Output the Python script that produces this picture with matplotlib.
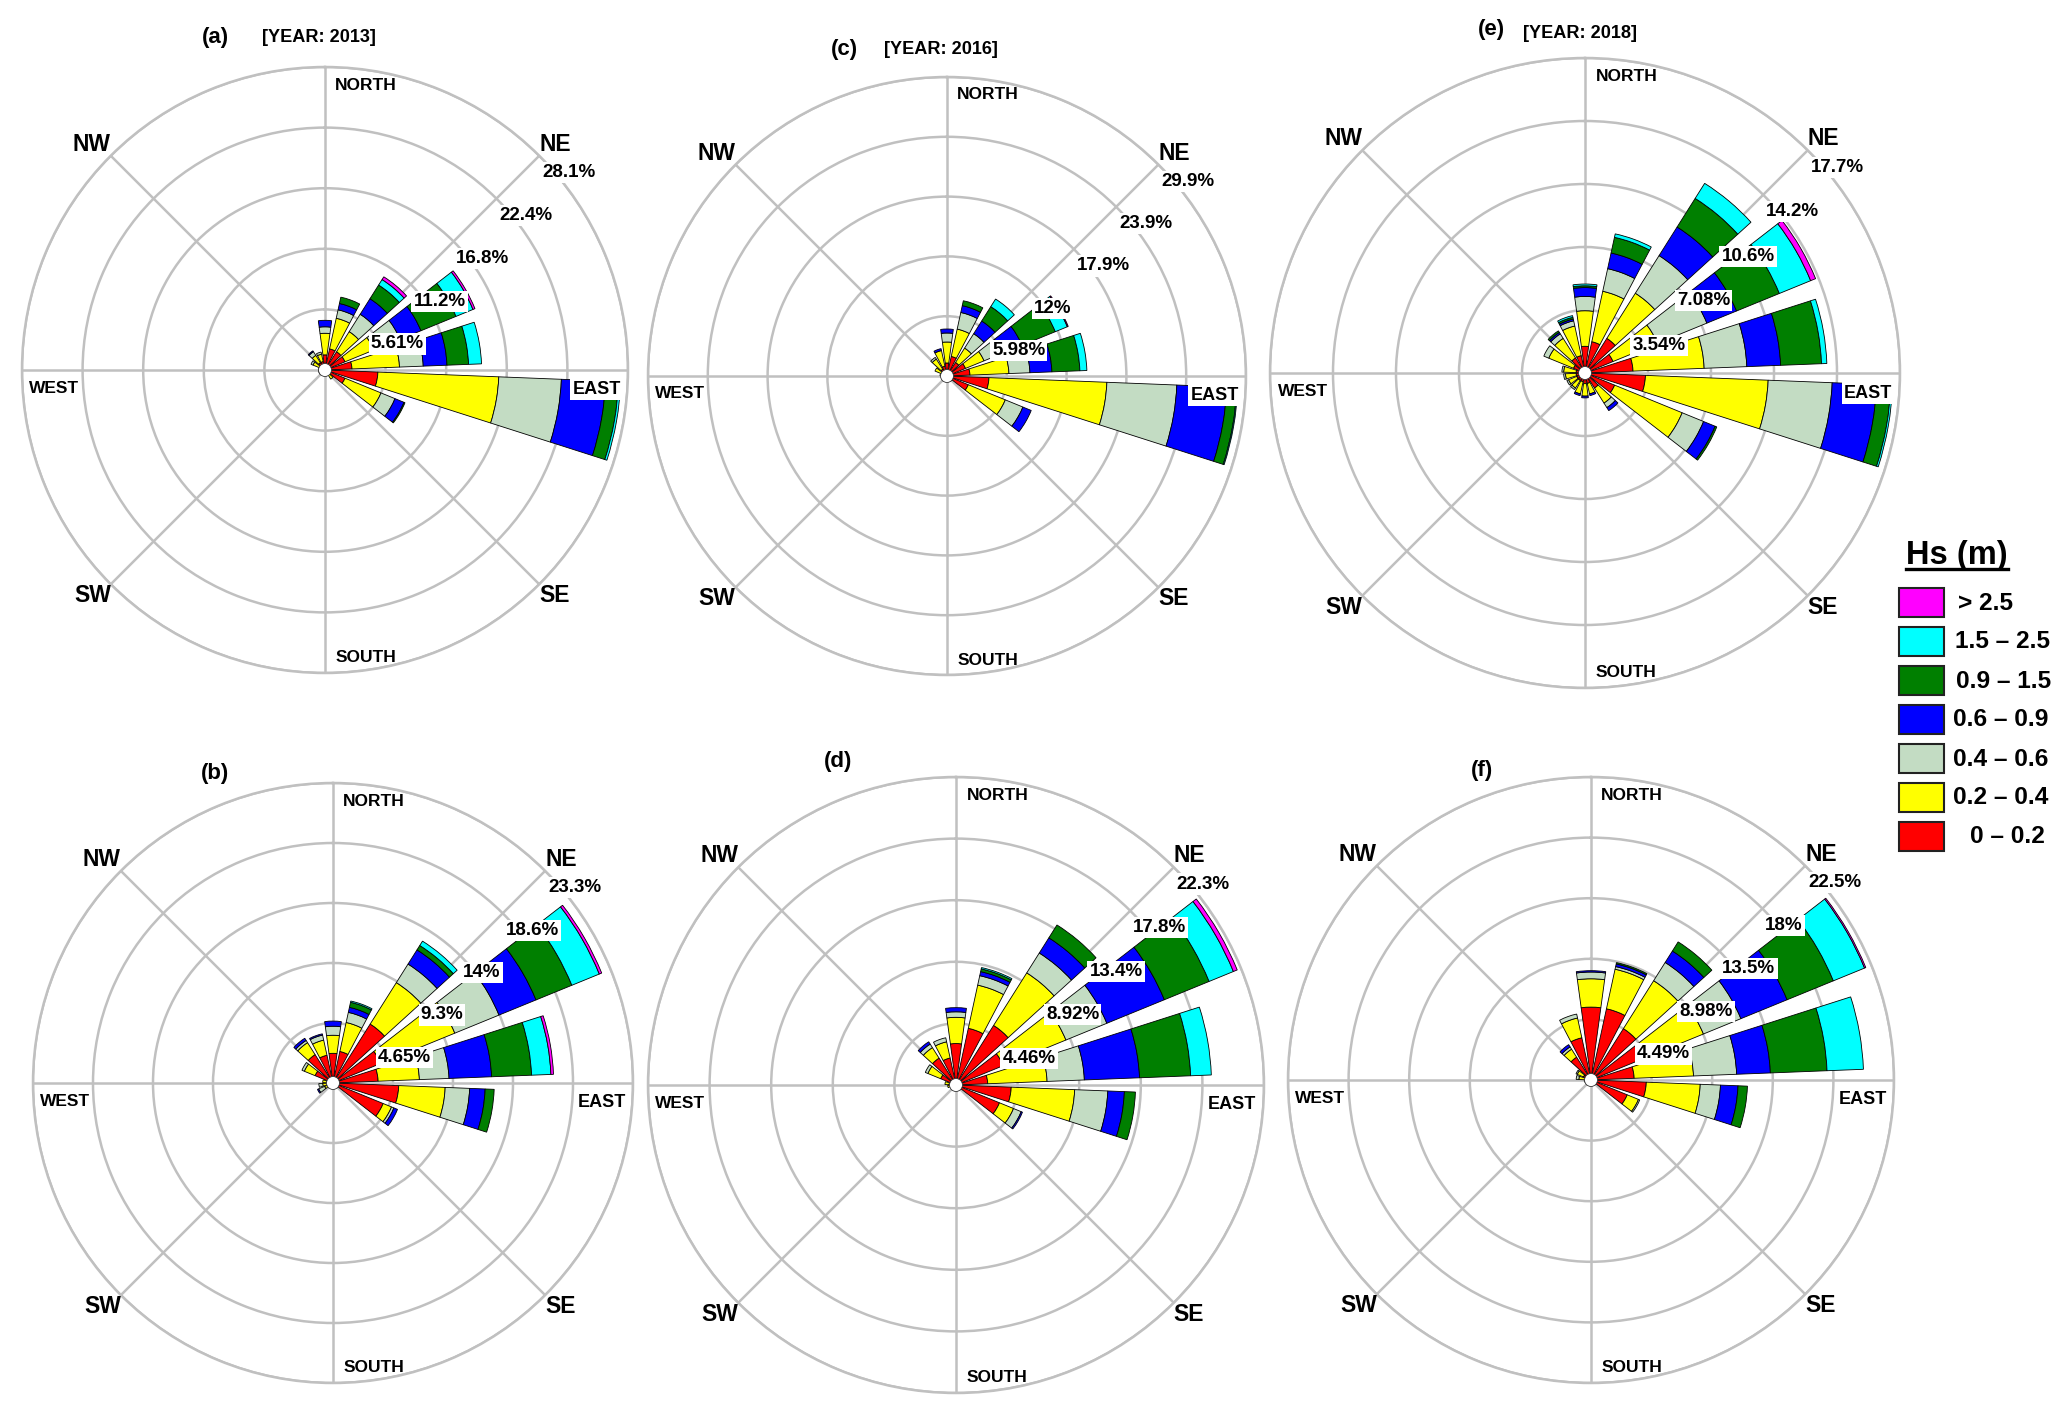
import numpy as np
import matplotlib.pyplot as plt
from matplotlib import font_manager
from matplotlib.patches import Rectangle, Circle
from matplotlib.lines import Line2D

# %% Data: frequency (%) of Hs classes for 18 direction sectors (bearing, deg)

bearings = [0, 20, 40, 60, 80, 100, 120, 140, 160, 180, 200, 220, 240, 260, 280, 300, 320, 340]

hs_labels = ['0 \u2013 0.2', '0.2 \u2013 0.4', '0.4 \u2013 0.6', '0.6 \u2013 0.9',
             '0.9 \u2013 1.5', '1.5 \u2013 2.5', '> 2.5']
hs_colors = ['#ff0000', '#ffff00', '#c3dcc3', '#0000ff', '#007f00', '#00ffff', '#ff00ff']

# rows = sectors (same order as bearings), columns = Hs classes (low -> high)
freq_a = [[1.4, 2.0, 0.6, 0.6], [2.0, 2.9, 0.8, 0.6, 0.6], [2.0, 2.2, 1.9, 1.7, 1.5, 0.6, 0.3],
          [2.0, 2.9, 2.6, 2.1, 3.5, 1.7, 0.2], [2.5, 4.4, 2.2, 2.2, 2.0, 1.2],
          [4.9, 11.2, 5.8, 4.1, 1.2, 0.2], [2.0, 3.6, 1.4, 0.9, 0.1], [0.5, 0.5], [0.3, 0.2],
          [0.2, 0.1], [0.2, 0.1], [0.2, 0.2], [0.3, 0.3], [0.3, 0.3], [0.3, 0.3],
          [0.5, 0.7, 0.2], [0.8, 0.8, 0.4, 0.1], [0.8, 0.7, 0.2]]
freq_b = [[2.3, 1.4, 0.7, 0.4], [2.5, 2.3, 0.8, 0.4, 0.4, 0.1], [5.4, 3.8, 1.7, 1.3, 0.4, 0.4],
          [4.0, 6.2, 3.7, 3.1, 3.0, 2.3, 0.2], [3.5, 3.2, 2.3, 3.3, 3.1, 1.5, 0.2],
          [5.1, 3.6, 1.9, 1.2, 0.7], [4.2, 0.7, 0.2, 0.3], [0.3], [0.2], [0.2], [0.2], [0.2],
          [0.3, 0.4, 0.5, 0.1], [0.4, 0.4, 0.3], [0.5, 0.3], [1.5, 0.9, 0.2],
          [2.6, 1.1, 0.2, 0.2], [2.2, 1.2, 0.4, 0.1]]
freq_c = [[1.3, 2.1, 0.9, 0.4], [2.0, 2.8, 1.7, 0.7, 0.5], [1.6, 1.7, 1.7, 1.5, 1.7, 0.9],
          [2.0, 2.0, 2.0, 2.1, 3.6, 1.3, 0.1], [2.3, 3.9, 2.1, 2.2, 2.8, 0.7],
          [4.2, 11.8, 7.0, 5.0, 1.0, 0.1], [2.3, 4.0, 1.9, 0.9], [0.4, 0.2], [0.3, 0.1],
          [0.2, 0.1], [0.2, 0.1], [0.2, 0.1], [0.2, 0.2], [0.3, 0.2], [0.4, 0.3],
          [0.6, 0.7], [0.8, 1.2, 0.2], [1.0, 1.6, 0.0, 0.2]]
freq_d = [[3.0, 1.9, 0.4, 0.3], [4.2, 3.2, 0.7, 0.3, 0.2, 0.1], [5.1, 4.5, 1.7, 1.3, 1.1],
          [3.7, 4.9, 3.2, 4.5, 3.5, 1.9, 0.3], [2.3, 4.3, 2.7, 4.0, 3.7, 1.5],
          [4.0, 4.6, 2.4, 1.2, 0.8], [3.4, 1.1, 0.6, 0.1], [0.3], [0.2], [0.2], [0.2], [0.2],
          [0.3, 0.1], [0.3, 0.3], [0.5, 0.3], [1.2, 1.0, 0.2], [2.3, 0.9, 0.3, 0.2],
          [2.0, 1.2, 0.3]]
freq_e = [[1.5, 2.0, 0.8, 0.5, 0.1, 0.1], [1.8, 2.9, 1.3, 0.9, 0.9, 0.2],
          [2.3, 3.0, 2.5, 1.9, 1.9, 1.0], [1.7, 2.7, 3.0, 1.8, 2.6, 1.9, 0.3],
          [2.7, 4.0, 2.4, 1.9, 2.3, 0.3], [3.4, 6.9, 3.6, 2.5, 0.8, 0.1],
          [1.8, 4.1, 1.3, 0.7, 0.1], [1.0, 1.0, 0.3, 0.2], [0.6, 0.6, 0.0, 0.1],
          [0.6, 0.7, 0.0, 0.1], [0.5, 0.7, 0.0, 0.1], [0.5, 0.5, 0.1], [0.5, 0.5, 0.1],
          [0.5, 0.6, 0.1], [0.5, 0.7, 0.1], [0.7, 1.5, 0.3], [1.0, 1.3, 0.3, 0.1, 0.1],
          [1.0, 1.7, 0.3, 0.1, 0.1, 0.1]]
freq_f = [[5.4, 2.1, 0.5, 0.1], [5.4, 3.0, 0.2, 0.2, 0.1], [4.5, 4.2, 1.6, 1.0, 0.8],
          [4.3, 4.7, 3.0, 3.7, 3.7, 2.5, 0.1], [3.2, 4.4, 3.2, 2.5, 4.2, 2.7],
          [4.1, 4.0, 1.5, 1.3, 0.7], [2.9, 0.9, 0.1], [0.4], [0.3], [0.2], [0.2], [0.2],
          [0.3], [0.3, 0.2], [0.4, 0.5, 0.2], [0.6, 0.5, 0.1], [2.0, 0.7, 0.2, 0.2],
          [3.2, 1.5, 0.3]]

rings_a = ['5.61%', '11.2%', '16.8%', '22.4%', '28.1%']
rings_b = ['4.65%', '9.3%', '14%', '18.6%', '23.3%']
rings_c = ['5.98%', '12%', '17.9%', '23.9%', '29.9%']
rings_d = ['4.46%', '8.92%', '13.4%', '17.8%', '22.3%']
rings_e = ['3.54%', '7.08%', '10.6%', '14.2%', '17.7%']
rings_f = ['4.49%', '8.98%', '13.5%', '18%', '22.5%']

years = ['2013', '2016', '2018']

# %% Figure

W, H = 2067, 1412
names = {f.name for f in font_manager.fontManager.ttflist}
narrow = 'Liberation Sans Narrow' if 'Liberation Sans Narrow' in names else None
plt.rcParams['font.family'] = 'Liberation Sans'
nfam = narrow if narrow else 'Liberation Sans'
nscale = 1.0 if narrow else 0.84

fig = plt.figure(figsize=(W / 100, H / 100), dpi=100)


def fx(x):
    return x / W


def fy(y):
    return 1 - y / H


grey = '#c0c0c0'
white_box = dict(facecolor='white', edgecolor='none', pad=1.5)

# panel: data, rings, letter, centre x, centre y, radius (px), letter pos
panels = [
    (freq_a, rings_a, '(a)', 325, 370, 303, (215, 37)),
    (freq_b, rings_b, '(b)', 333, 1083, 300, (215, 774)),
    (freq_c, rings_c, '(c)', 947, 376, 299, (844, 49)),
    (freq_d, rings_d, '(d)', 956, 1085, 308, (838, 762)),
    (freq_e, rings_e, '(e)', 1585, 373, 315, (1491, 29)),
    (freq_f, rings_f, '(f)', 1591, 1080, 303, (1482, 771)),
]
year_pos = {'(a)': (262, 37), '(c)': (884, 49), '(e)': (1523, 34)}

theta = np.radians(bearings)
for i, (freq, rings, letter, cx, cy, R, lpos) in enumerate(panels):
    ax = fig.add_axes([fx(cx - R), fy(cy + R), 2 * R / W, 2 * R / H], projection='polar')
    ax.set_theta_zero_location('N')
    ax.set_theta_direction(-1)
    ax.patch.set_alpha(0)

    step = float(rings[0].strip('%'))
    rmax = 5 * step
    ax.set_ylim(0, rmax)
    ax.set_thetagrids(range(0, 360, 45), labels=[''] * 8)
    ax.set_rgrids([step * k for k in range(1, 6)], labels=[''] * 5)
    ax.grid(color=grey, linewidth=1.8)
    ax.spines['polar'].set_color(grey)
    ax.spines['polar'].set_linewidth(1.8)
    ax.set_axisbelow(True)

    vals = np.array([r + [0] * (7 - len(r)) for r in freq]).T
    bottom = np.zeros(len(bearings))
    for k in range(7):
        m = vals[k] > 0
        ax.bar(theta[m], vals[k][m], width=np.radians(15.5), bottom=bottom[m],
               color=hs_colors[k], edgecolor='black', linewidth=0.6, zorder=3)
        bottom += vals[k]

    ax.add_artist(Circle((0.5, 0.5), 6.5 / (2 * R), transform=ax.transAxes,
                         facecolor='white', edgecolor='#333333', linewidth=0.6, zorder=4))

    # ring labels along NE spoke
    for k, lab in enumerate(rings):
        ax.annotate(lab, xy=(np.radians(45), step * (k + 1)), xytext=(2, -6),
                    textcoords='offset points', ha='left', va='top', fontsize=13.5,
                    fontweight='bold', bbox=white_box, zorder=6, annotation_clip=False)

    # compass labels
    d = 0.5 + 0.5 * np.cos(np.radians(45))
    e = 1 - d
    kw = dict(transform=ax.transAxes, zorder=6, fontweight='bold')
    ax.text(0.517, 0.97, 'NORTH', ha='left', va='center', fontsize=12.5, **kw)
    ax.text(0.517, 0.025, 'SOUTH', ha='left', va='center', fontsize=12.5, **kw)
    ax.text(0.988, 0.468, 'EAST', ha='right', va='center', fontsize=13, bbox=white_box, **kw)
    ax.text(0.012, 0.47, 'WEST', ha='left', va='center', fontsize=12.5, **kw)
    ax.text(d, d, 'NE', ha='left', va='bottom', fontsize=16.5, **kw)
    ax.text(d, e, 'SE', ha='left', va='top', fontsize=16.5, **kw)
    ax.text(e, e, 'SW', ha='right', va='top', fontsize=16.5, **kw)
    ax.text(e, d, 'NW', ha='right', va='bottom', fontsize=16.5, **kw)

    fig.text(fx(lpos[0]), fy(lpos[1]), letter, ha='center', va='center',
             fontsize=16, fontweight='bold')
    if letter in year_pos:
        yx, yy = year_pos[letter]
        fig.text(fx(yx), fy(yy), '[YEAR: ' + years[i // 2] + ']', ha='left', va='center',
                 fontsize=15.5 * nscale, fontweight='bold', family=nfam)

# %% Legend

fig.text(fx(1906), fy(564), 'Hs (m)', ha='left', va='baseline', fontsize=28 * nscale,
         fontweight='bold', family=nfam)
fig.add_artist(Line2D([fx(1906), fx(2008)], [fy(569), fy(569)], color='black', linewidth=2.4))
label_x = [1970, 1953, 1953, 1953, 1956, 1955, 1958]
for j, k in enumerate(range(6, -1, -1)):
    top = 588 + 39 * j
    fig.add_artist(Rectangle((fx(1899), fy(top + 29)), 45 / W, 29 / H, transform=fig.transFigure,
                             facecolor=hs_colors[k], edgecolor='#222222', linewidth=1.5))
    fig.text(fx(label_x[k]), fy(top + 15), hs_labels[k], ha='left', va='center',
             fontsize=21 * nscale, fontweight='bold', family=nfam)

fig.savefig('out.png', dpi=100)
